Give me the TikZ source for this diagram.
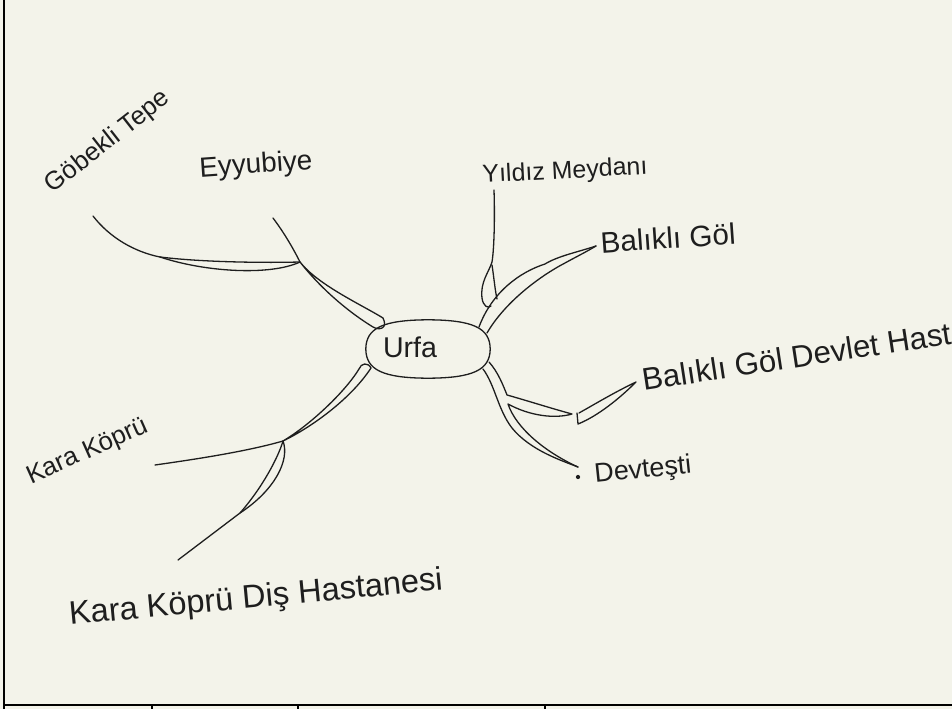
\documentclass[tikz,border=0pt]{standalone}
\usepackage{fontspec}
\setmainfont{Liberation Sans}
\definecolor{paper}{HTML}{F3F3EA}
\definecolor{ink}{HTML}{1E1E1E}
\tikzset{
  pen/.style={draw=ink, line width=1.3pt, line cap=round, line join=round},
  hand/.style={text=ink, inner sep=0pt},
  frame/.style={draw=black, line width=2pt},
  oval/.style={minimum width=124pt, minimum height=58pt, inner sep=0pt},
}
\begin{document}
\begin{tikzpicture}[x=1pt,y=-1pt]
\fill[paper] (0,0) rectangle (952,709);
\useasboundingbox (0,0) rectangle (952,709);
% frame
\draw[frame] (4,0) -- (4,709);
\draw[frame] (4,705) -- (952,705);
\foreach \x in {152,298,545} \draw[frame] (\x,705) -- (\x,709);

% centre
\node[oval] (urfa) at (428,349) {};
\draw[pen] (urfa.north) .. controls (473,320) and (490,328) .. (urfa.east) .. controls (490,370) and (473,378) .. (urfa.south) .. controls (383,378) and (366,370) .. (urfa.west) .. controls (366,328) and (383,320) .. (urfa.north);
\node[hand] (urfatext) at (410,347) {\resizebox{54pt}{!}{Urfa}};

% labels
\node[hand, rotate=38] (gobekli) at (108,142) {\resizebox{150pt}{!}{Göbekli Tepe}};
\node[hand, rotate=4] (eyyubiye) at (256,166) {\resizebox{113pt}{!}{Eyyubiye}};
\node[hand, rotate=3] (yildiz) at (565,172) {\resizebox{165pt}{!}{Yıldız Meydanı}};
\node[hand, rotate=4] (balikli) at (668,238) {\resizebox{135pt}{!}{Balıklı Göl}};
\node[hand, rotate=8.7, anchor=west] (devlet) at (642,380) {\resizebox{312pt}{!}{Balıklı Göl Devlet Hast}};
\node[hand, rotate=6] (devtesti) at (643,471) {\resizebox{97pt}{!}{Devteşti}};
\node[circle, fill=ink, inner sep=1.5pt] (dot) at (578,477) {};
\node[hand, rotate=24] (karakopru) at (88,452) {\resizebox{130pt}{!}{Kara Köprü}};
\node[hand, rotate=5.4] (dis) at (256,599) {\resizebox{375pt}{!}{Kara Köprü Diş Hastanesi}};

% branch points
\coordinate (gEnd) at (93,216);
\coordinate (gSplit) at (160,257);
\coordinate (jE) at (300,262);
\coordinate (eEnd) at (273,218);
\coordinate (yEnd) at (494,190);
\coordinate (yIn) at (492,265);
\coordinate (bEnd) at (596,246);
\coordinate (hEnd) at (572,414);
\coordinate (tA) at (578,424);
\coordinate (tB) at (636,382);
\coordinate (dEnd) at (578,467);
\coordinate (kEnd) at (155,465);
\coordinate (jK) at (283,441);
\coordinate (dsEnd) at (178,560);

% Göbekli Tepe
\draw[pen] (gEnd) .. controls (110,238) and (135,252) .. (gSplit) .. controls (200,262) and (260,263) .. (jE);
\draw[pen] (gSplit) .. controls (205,272) and (270,276) .. (jE);
% Eyyubiye
\draw[pen] (eEnd) .. controls (285,234) and (294,250) .. (jE) .. controls (318,285) and (362,305) .. (383,318) .. controls (388,328) and (380,331) .. (373,327) .. controls (350,313) and (322,290) .. (jE);
% Yildiz Meydani
\draw[pen] (yEnd) .. controls (495,220) and (494,250) .. (492,262) .. controls (489,272) and (480,282) .. (482,298) .. controls (483,306) and (488,309) .. (491,306);
\draw[pen] (yIn) .. controls (494,278) and (495,290) .. (497,299);
% Balikli Gol
\draw[pen] (bEnd) .. controls (578,252) and (558,256) .. (545,264) .. controls (520,272) and (492,292) .. (479,327);
\draw[pen] (bEnd) .. controls (586,252) and (574,258) .. (565,263) .. controls (540,276) and (505,302) .. (487,333);
% Devtesti and Devlet Hastanesi
\draw[pen] (483,369) .. controls (495,385) and (498,410) .. (512,428) .. controls (530,450) and (560,460) .. (dEnd);
\draw[pen] (489,362) .. controls (498,372) and (503,385) .. (507,395) .. controls (525,400) and (550,408) .. (hEnd) .. controls (555,419) and (530,416) .. (508,404) .. controls (516,428) and (545,452) .. (dEnd);
\draw[pen] (577,413) -- (tA) .. controls (598,416) and (620,398) .. (tB) .. controls (615,392) and (595,404) .. (579,413);
% Kara Kopru
\draw[pen] (kEnd) .. controls (190,460) and (245,452) .. (jK) .. controls (310,428) and (350,400) .. (371,368) .. controls (368,362) and (361,363) .. (359,369) .. controls (345,392) and (310,425) .. (jK);
% Kara Kopru Dis Hastanesi
\draw[pen] (jK) .. controls (290,460) and (275,490) .. (240,513) -- (dsEnd);
\draw[pen] (jK) .. controls (278,458) and (262,488) .. (240,513);
\end{tikzpicture}
\end{document}
